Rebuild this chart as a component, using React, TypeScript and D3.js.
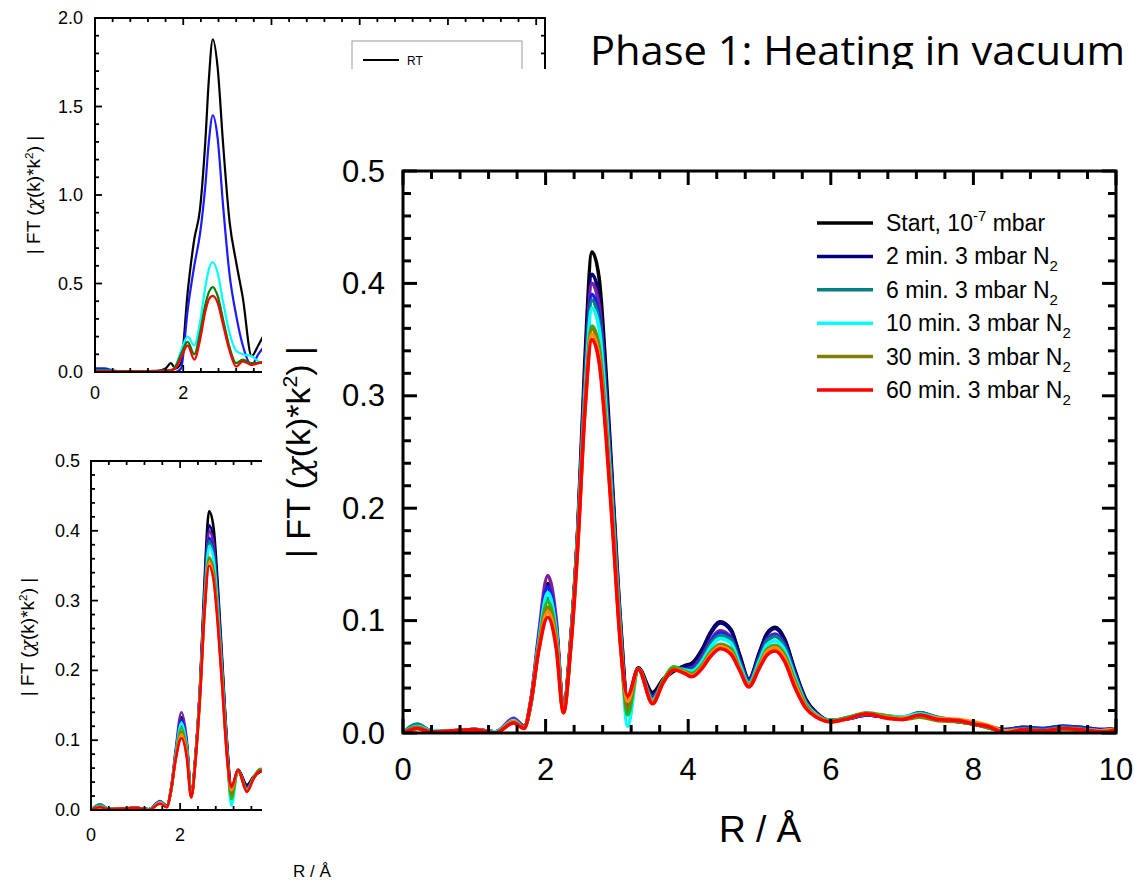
import React from "react";
import * as d3 from "d3";

// ---------- Main chart / lower inset data (|FT| vs R) ----------
const R_GRID = [0, 0.2, 0.4, 0.7, 1.0, 1.3, 1.55, 1.7, 1.8, 1.9, 2.03, 2.15, 2.25, 2.35, 2.45, 2.55, 2.65, 2.75, 2.85, 2.95, 3.05, 3.15, 3.3, 3.5, 3.65, 3.8, 3.95, 4.05, 4.2, 4.3, 4.45, 4.6, 4.72, 4.85, 5.0, 5.1, 5.22, 5.35, 5.5, 5.65, 5.8, 6.0, 6.25, 6.5, 6.8, 7.0, 7.25, 7.5, 7.8, 8.0, 8.2, 8.45, 8.7, 9.0, 9.25, 9.5, 9.8, 10.0];

const S_START = [0.000, 0.006, 0.002, 0.002, 0.003, 0.001, 0.012, 0.006, 0.028, 0.078, 0.133, 0.095, 0.022, 0.082, 0.180, 0.330, 0.428, 0.405, 0.318, 0.208, 0.100, 0.030, 0.058, 0.036, 0.048, 0.055, 0.060, 0.062, 0.075, 0.088, 0.099, 0.092, 0.070, 0.048, 0.072, 0.088, 0.094, 0.084, 0.055, 0.030, 0.018, 0.011, 0.013, 0.016, 0.014, 0.013, 0.018, 0.013, 0.010, 0.008, 0.005, 0.002, 0.004, 0.003, 0.005, 0.004, 0.002, 0.003];
const S_2MIN = [0.000, 0.007, 0.002, 0.002, 0.003, 0.001, 0.012, 0.006, 0.030, 0.080, 0.130, 0.094, 0.021, 0.080, 0.178, 0.318, 0.408, 0.388, 0.306, 0.202, 0.097, 0.028, 0.057, 0.034, 0.047, 0.056, 0.059, 0.061, 0.074, 0.087, 0.098, 0.091, 0.069, 0.047, 0.071, 0.087, 0.093, 0.083, 0.054, 0.029, 0.017, 0.011, 0.013, 0.016, 0.014, 0.013, 0.017, 0.013, 0.010, 0.009, 0.006, 0.003, 0.005, 0.004, 0.006, 0.005, 0.003, 0.004];
const S_PURPLE = [0.000, 0.006, 0.002, 0.002, 0.003, 0.001, 0.013, 0.006, 0.032, 0.086, 0.140, 0.100, 0.021, 0.080, 0.178, 0.312, 0.400, 0.380, 0.300, 0.198, 0.094, 0.025, 0.057, 0.032, 0.046, 0.057, 0.057, 0.058, 0.069, 0.081, 0.091, 0.085, 0.065, 0.046, 0.068, 0.083, 0.088, 0.079, 0.052, 0.028, 0.017, 0.011, 0.013, 0.016, 0.014, 0.013, 0.018, 0.013, 0.010, 0.008, 0.005, 0.002, 0.004, 0.003, 0.005, 0.004, 0.002, 0.003];
const S_BLUE = [0.000, 0.006, 0.002, 0.002, 0.003, 0.001, 0.011, 0.005, 0.031, 0.082, 0.130, 0.093, 0.020, 0.079, 0.176, 0.306, 0.390, 0.371, 0.294, 0.194, 0.092, 0.020, 0.057, 0.031, 0.046, 0.057, 0.057, 0.057, 0.067, 0.079, 0.089, 0.084, 0.064, 0.047, 0.067, 0.082, 0.087, 0.078, 0.051, 0.027, 0.016, 0.011, 0.013, 0.016, 0.014, 0.013, 0.017, 0.013, 0.011, 0.009, 0.006, 0.003, 0.005, 0.004, 0.006, 0.005, 0.003, 0.004];
const S_6MIN = [0.000, 0.008, 0.002, 0.002, 0.003, 0.001, 0.011, 0.005, 0.030, 0.078, 0.120, 0.088, 0.020, 0.079, 0.175, 0.303, 0.385, 0.366, 0.290, 0.191, 0.090, 0.018, 0.057, 0.030, 0.046, 0.057, 0.056, 0.056, 0.066, 0.078, 0.087, 0.083, 0.063, 0.045, 0.066, 0.081, 0.086, 0.077, 0.050, 0.027, 0.016, 0.011, 0.014, 0.017, 0.015, 0.014, 0.018, 0.014, 0.011, 0.009, 0.006, 0.002, 0.004, 0.003, 0.005, 0.004, 0.002, 0.003];
const S_10MIN = [0.000, 0.006, 0.002, 0.002, 0.003, 0.001, 0.011, 0.005, 0.030, 0.079, 0.125, 0.090, 0.020, 0.078, 0.173, 0.298, 0.378, 0.360, 0.285, 0.186, 0.086, 0.006, 0.056, 0.029, 0.046, 0.058, 0.056, 0.055, 0.064, 0.075, 0.084, 0.080, 0.061, 0.044, 0.064, 0.078, 0.082, 0.074, 0.049, 0.026, 0.016, 0.011, 0.014, 0.017, 0.015, 0.014, 0.017, 0.013, 0.011, 0.009, 0.005, 0.001, 0.003, 0.002, 0.004, 0.003, 0.002, 0.003];
const S_GREEN = [0.000, 0.005, 0.001, 0.002, 0.003, 0.000, 0.010, 0.005, 0.030, 0.076, 0.117, 0.085, 0.019, 0.077, 0.170, 0.290, 0.362, 0.344, 0.273, 0.180, 0.083, 0.016, 0.057, 0.028, 0.047, 0.059, 0.055, 0.053, 0.061, 0.071, 0.079, 0.075, 0.058, 0.043, 0.061, 0.074, 0.078, 0.070, 0.046, 0.025, 0.015, 0.011, 0.014, 0.018, 0.015, 0.013, 0.015, 0.012, 0.010, 0.008, 0.005, 0.001, 0.003, 0.002, 0.004, 0.003, 0.001, 0.002];
const S_30MIN = [0.000, 0.005, 0.001, 0.002, 0.003, 0.000, 0.010, 0.005, 0.030, 0.074, 0.112, 0.082, 0.019, 0.076, 0.168, 0.288, 0.360, 0.340, 0.270, 0.178, 0.082, 0.022, 0.057, 0.027, 0.046, 0.057, 0.054, 0.052, 0.060, 0.070, 0.078, 0.074, 0.057, 0.042, 0.060, 0.073, 0.077, 0.069, 0.045, 0.024, 0.015, 0.010, 0.013, 0.017, 0.014, 0.012, 0.014, 0.011, 0.010, 0.008, 0.005, 0.001, 0.003, 0.002, 0.003, 0.002, 0.001, 0.002];
const S_ORANGE = [0.000, 0.004, 0.001, 0.002, 0.003, 0.000, 0.010, 0.004, 0.030, 0.073, 0.108, 0.079, 0.018, 0.075, 0.166, 0.286, 0.355, 0.334, 0.266, 0.174, 0.080, 0.028, 0.057, 0.027, 0.045, 0.056, 0.054, 0.051, 0.059, 0.069, 0.077, 0.072, 0.057, 0.042, 0.059, 0.072, 0.076, 0.067, 0.043, 0.023, 0.015, 0.010, 0.013, 0.017, 0.014, 0.013, 0.016, 0.013, 0.012, 0.010, 0.007, 0.002, 0.003, 0.002, 0.004, 0.003, 0.002, 0.004];
const S_60MIN = [0.000, 0.004, 0.001, 0.002, 0.003, 0.000, 0.009, 0.004, 0.030, 0.072, 0.103, 0.075, 0.018, 0.074, 0.165, 0.285, 0.350, 0.330, 0.262, 0.172, 0.078, 0.033, 0.057, 0.026, 0.045, 0.056, 0.053, 0.050, 0.058, 0.067, 0.075, 0.070, 0.056, 0.041, 0.058, 0.069, 0.073, 0.064, 0.040, 0.022, 0.014, 0.010, 0.013, 0.017, 0.013, 0.012, 0.016, 0.012, 0.011, 0.008, 0.006, 0.000, 0.003, 0.002, 0.004, 0.003, 0.001, 0.003];

const MAIN_COLORS = ["#000000", "#00007f", "#7a1fa2", "#1a1aff", "#008080", "#00ffff", "#22bb22", "#808000", "#ff8c00", "#ff0000"];
const MAIN_VALUES = [S_START, S_2MIN, S_PURPLE, S_BLUE, S_6MIN, S_10MIN, S_GREEN, S_30MIN, S_ORANGE, S_60MIN];

const LEGEND_LABELS = [
  { main: "Start, 10", sup: "-7", tail: " mbar", color: "#000000" },
  { main: "2 min. 3 mbar N", sub: "2", color: "#00007f" },
  { main: "6 min. 3 mbar N", sub: "2", color: "#008080" },
  { main: "10 min. 3 mbar N", sub: "2", color: "#00ffff" },
  { main: "30 min. 3 mbar N", sub: "2", color: "#808000" },
  { main: "60 min. 3 mbar N", sub: "2", color: "#ff0000" },
];

// ---------- Upper inset data ----------
const R_TOP = [0, 0.2, 0.5, 1.0, 1.4, 1.6, 1.72, 1.82, 1.95, 2.1, 2.25, 2.38, 2.5, 2.58, 2.67, 2.78, 2.9, 3.05, 3.2, 3.35, 3.55, 3.7, 3.85];
const T_RT = [0.010, 0.015, 0.004, 0.004, 0.006, 0.020, 0.050, 0.020, 0.050, 0.450, 0.750, 0.920, 1.300, 1.650, 1.880, 1.720, 1.300, 0.850, 0.620, 0.420, 0.090, 0.150, 0.220];
const T_BLUE = [0.020, 0.020, 0.005, 0.004, 0.005, 0.008, 0.010, 0.000, 0.020, 0.350, 0.600, 0.780, 1.050, 1.300, 1.450, 1.320, 0.950, 0.550, 0.320, 0.150, 0.040, 0.100, 0.150];
const T_CYAN = [0.010, 0.010, 0.005, 0.004, 0.005, 0.008, 0.010, 0.030, 0.120, 0.200, 0.150, 0.280, 0.480, 0.580, 0.620, 0.560, 0.400, 0.220, 0.120, 0.100, 0.090, 0.060, 0.050];
const T_GREEN = [0.010, 0.010, 0.005, 0.004, 0.005, 0.008, 0.010, 0.030, 0.100, 0.170, 0.100, 0.220, 0.380, 0.450, 0.480, 0.430, 0.300, 0.140, 0.050, 0.070, 0.050, 0.050, 0.060];
const T_RED = [0.005, 0.005, 0.003, 0.003, 0.004, 0.008, 0.010, 0.020, 0.080, 0.150, 0.070, 0.180, 0.340, 0.410, 0.430, 0.390, 0.270, 0.120, 0.030, 0.060, 0.040, 0.050, 0.060];
const TOP_COLORS = ["#000000", "#1a1aff", "#00ffff", "#008000", "#ff0000"];
const TOP_VALUES = [T_RT, T_BLUE, T_CYAN, T_GREEN, T_RED];

const FONT = "'Liberation Sans', Arial, Helvetica, sans-serif";

type PanelProps = {
  id: string;
  x0: number; x1: number; y0: number; y1: number;
  xDomain: [number, number]; yDomain: [number, number];
  xMajorStep: number; xMinorStep: number; yMajorStep: number; yMinorStep: number;
  majorLen: number; minorLen: number; frameW: number; tickW: number;
  fontSize: number; xLabelY: number; yLabelGap: number;
  xFmt: (v: number) => string; yFmt: (v: number) => string;
  grid: number[]; values: number[][]; colors: string[]; lineW: number;
};

function Panel(p: PanelProps) {
  const xs = d3.scaleLinear().domain(p.xDomain).range([p.x0, p.x1]);
  const ys = d3.scaleLinear().domain(p.yDomain).range([p.y1, p.y0]);
  const eps = 1e-9;
  const xMinor = d3.range(p.xDomain[0], p.xDomain[1] + eps, p.xMinorStep);
  const yMinor = d3.range(p.yDomain[0], p.yDomain[1] + eps, p.yMinorStep);
  const isMajor = (v: number, step: number) => Math.abs(v / step - Math.round(v / step)) < 1e-6;
  const xMajor = d3.range(p.xDomain[0], p.xDomain[1] + eps, p.xMajorStep);
  const yMajor = d3.range(p.yDomain[0], p.yDomain[1] + eps, p.yMajorStep);
  const line = d3
    .line<number>()
    .x((_, i) => xs(p.grid[i]))
    .y((d) => ys(d))
    .curve(d3.curveMonotoneX);
  const ticks: any[] = [];
  xMinor.forEach((v, i) => {
    const L = isMajor(v, p.xMajorStep) ? p.majorLen : p.minorLen;
    const x = xs(v);
    ticks.push(<line key={`xb${i}`} x1={x} x2={x} y1={p.y1} y2={p.y1 - L} />);
    ticks.push(<line key={`xt${i}`} x1={x} x2={x} y1={p.y0} y2={p.y0 + L} />);
  });
  yMinor.forEach((v, i) => {
    const L = isMajor(v, p.yMajorStep) ? p.majorLen : p.minorLen;
    const y = ys(v);
    ticks.push(<line key={`yl${i}`} x1={p.x0} x2={p.x0 + L} y1={y} y2={y} />);
    ticks.push(<line key={`yr${i}`} x1={p.x1} x2={p.x1 - L} y1={y} y2={y} />);
  });
  return (
    <g>
      <defs>
        <clipPath id={p.id}>
          <rect x={p.x0} y={p.y0} width={p.x1 - p.x0} height={p.y1 - p.y0} />
        </clipPath>
      </defs>
      <g clipPath={`url(#${p.id})`}>
        {p.values.map((vals, i) => (
          <path key={i} d={line(vals) || ""} fill="none" stroke={p.colors[i]} strokeWidth={p.lineW} strokeLinejoin="round" strokeLinecap="round" />
        ))}
      </g>
      <g stroke="#000" strokeWidth={p.tickW}>{ticks}</g>
      <rect x={p.x0} y={p.y0} width={p.x1 - p.x0} height={p.y1 - p.y0} fill="none" stroke="#000" strokeWidth={p.frameW} />
      <g fontFamily={FONT} fontSize={p.fontSize} fill="#000">
        {xMajor.map((v, i) => (
          <text key={`xl${i}`} x={xs(v)} y={p.xLabelY} textAnchor="middle">{p.xFmt(v)}</text>
        ))}
        {yMajor.map((v, i) => (
          <text key={`yl${i}`} x={p.x0 - p.yLabelGap} y={ys(v)} textAnchor="end" dominantBaseline="central">{p.yFmt(v)}</text>
        ))}
      </g>
    </g>
  );
}

function YTitle({ x, y, size }: { x: number; y: number; size: number }) {
  return (
    <text transform={`translate(${x},${y}) rotate(-90)`} textAnchor="middle" fontFamily={FONT} fontSize={size} fill="#000">
      <tspan>| FT (</tspan>
      <tspan fontFamily="'DejaVu Serif', serif" fontStyle="italic">χ</tspan>
      <tspan>(k)*k</tspan>
      <tspan fontSize={size * 0.62} dy={-size * 0.38}>2</tspan>
      <tspan dy={size * 0.38}>) |</tspan>
    </text>
  );
}

export default function App() {
  const f1 = d3.format(".1f");
  const f0 = d3.format("d");
  const legendY = d3.scaleLinear().domain([0, 5]).range([223, 390]);
  return (
    <svg width={1134} height={882} style={{ position: "absolute", left: 0, top: 0, background: "#fff" }}>
      <rect x={0} y={0} width={1134} height={882} fill="#fff" />
      {/* Title */}
      <text x={590} y={65} fontFamily="'Open Sans', 'Noto Sans', sans-serif" fontSize={41} fill="#000" textLength={535} lengthAdjust="spacingAndGlyphs">
        Phase 1: Heating in vacuum
      </text>

      {/* Upper-left inset */}
      <Panel
        id="clipTop" x0={95} x1={545} y0={18} y1={372}
        xDomain={[0, 10.2]} yDomain={[0, 2]}
        xMajorStep={2} xMinorStep={0.4} yMajorStep={0.5} yMinorStep={0.1}
        majorLen={7} minorLen={4} frameW={2} tickW={1.8}
        fontSize={18} xLabelY={399} yLabelGap={12}
        xFmt={f0} yFmt={f1}
        grid={R_TOP} values={TOP_VALUES} colors={TOP_COLORS} lineW={2.2}
      />
      <YTitle x={40} y={195} size={19} />
      <rect x={352} y={41} width={170} height={60} fill="#fff" stroke="#999" strokeWidth={1} />
      <line x1={363} x2={399} y1={60} y2={60} stroke="#000" strokeWidth={2} />
      <text x={407} y={64.5} fontFamily={FONT} fontSize={12} fill="#000">RT</text>

      {/* Lower-left inset */}
      <Panel
        id="clipBot" x0={91} x1={541} y0={461} y1={810}
        xDomain={[0, 10.1]} yDomain={[0, 0.5]}
        xMajorStep={2} xMinorStep={0.4} yMajorStep={0.1} yMinorStep={0.02}
        majorLen={7} minorLen={4} frameW={2} tickW={1.8}
        fontSize={18} xLabelY={841} yLabelGap={11}
        xFmt={f0} yFmt={f1}
        grid={R_GRID} values={MAIN_VALUES} colors={MAIN_COLORS} lineW={2.6}
      />
      <YTitle x={34} y={637} size={19} />
      <text x={312} y={877} textAnchor="middle" fontFamily={FONT} fontSize={17} fill="#000">R / Å</text>

      {/* Cover of the main panel */}
      <rect x={262} y={69} width={872} height={789} fill="#fff" />

      {/* Main chart */}
      <Panel
        id="clipMain" x0={403} x1={1116} y0={171} y1={733}
        xDomain={[0, 10]} yDomain={[0, 0.5]}
        xMajorStep={2} xMinorStep={0.4} yMajorStep={0.1} yMinorStep={0.02}
        majorLen={14} minorLen={8} frameW={3} tickW={3}
        fontSize={31} xLabelY={780} yLabelGap={18}
        xFmt={f0} yFmt={f1}
        grid={R_GRID} values={MAIN_VALUES} colors={MAIN_COLORS} lineW={3.6}
      />
      <YTitle x={310} y={452} size={34} />
      <text x={760} y={842} textAnchor="middle" fontFamily={FONT} fontSize={37} fill="#000">R / Å</text>

      {/* Legend */}
      <g fontFamily={FONT} fontSize={23} fill="#000">
        {LEGEND_LABELS.map((l, i) => {
          const y = legendY(i);
          return (
            <g key={i}>
              <line x1={817} x2={873} y1={y} y2={y} stroke={l.color} strokeWidth={3.5} />
              <text x={886} y={y + 8}>
                <tspan>{l.main}</tspan>
                {l.sup ? <tspan fontSize={15} dy={-10}>{l.sup}</tspan> : null}
                {l.sup ? <tspan dy={10}>{l.tail}</tspan> : null}
                {l.sub ? <tspan fontSize={15} dy={7}>{l.sub}</tspan> : null}
              </text>
            </g>
          );
        })}
      </g>
    </svg>
  );
}
